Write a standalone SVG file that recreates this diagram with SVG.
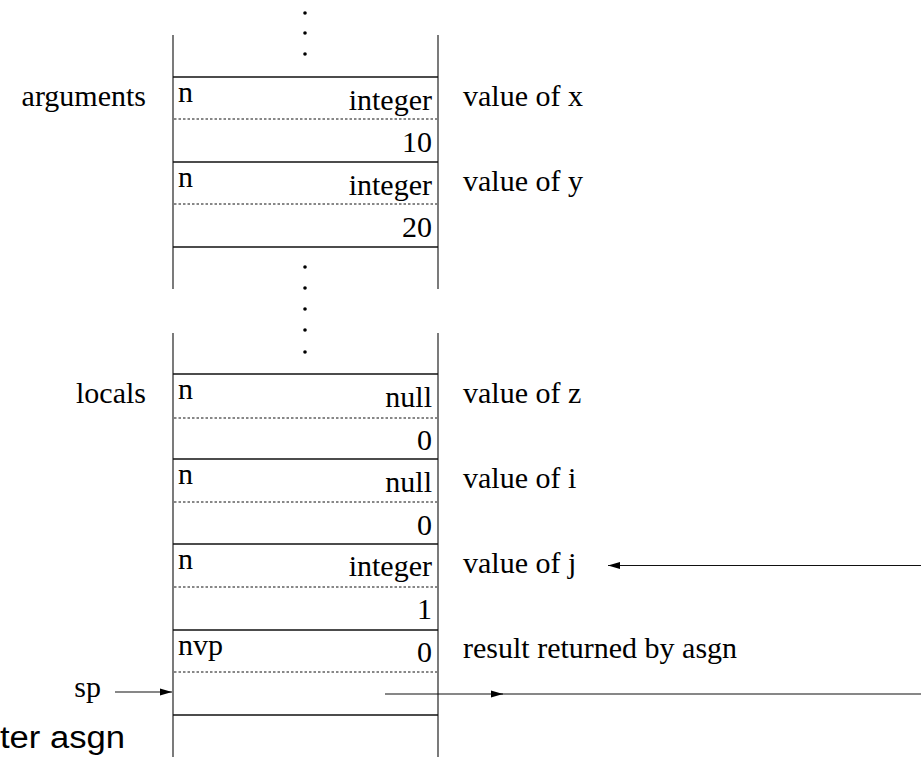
<svg xmlns="http://www.w3.org/2000/svg" width="921" height="757" viewBox="0 0 921 757">
<style>
.t{font-family:'Liberation Serif','Times New Roman',Tinos,'Noto Serif','DejaVu Serif','Nimbus Roman',Times,serif;font-size:30px;fill:#000}
.r{text-anchor:end}
.sans{font-family:'Liberation Sans',Arial,Helvetica,sans-serif;font-size:31px;fill:#000}
.v{stroke:#333;stroke-width:1.3;fill:none}
.h{stroke:#111;stroke-width:1.6;fill:none}
.d{stroke:#111;stroke-width:1;stroke-dasharray:2.5 2;fill:none}
.c{stroke:#111;stroke-width:1.2;fill:none}
</style>
<defs>
<marker id="ah" viewBox="0 0 12 8" refX="12" refY="4" markerWidth="12" markerHeight="8" markerUnits="userSpaceOnUse" orient="auto">
<path d="M0,0.5 L12,4 L0,7.5 Z" fill="#000"/>
</marker>
</defs>
<g id="stack-frame">
<line class="v" x1="173" y1="35" x2="173" y2="289"/>
<line class="v" x1="438" y1="35" x2="438" y2="289"/>
<line class="v" x1="173" y1="333" x2="173" y2="757"/>
<line class="v" x1="438" y1="333" x2="438" y2="757"/>
<g fill="#000">
<circle cx="305" cy="13" r="1.8"/><circle cx="305" cy="33" r="1.8"/><circle cx="305" cy="54" r="1.8"/>
<circle cx="305" cy="267" r="1.8"/><circle cx="305" cy="288" r="1.8"/><circle cx="305" cy="309" r="1.8"/><circle cx="305" cy="330" r="1.8"/><circle cx="305" cy="352" r="1.8"/>
</g>
<text x="146" y="106" class="t r">arguments</text>
<text x="146" y="403" class="t r">locals</text>
<text x="101" y="697" class="t r">sp</text>
<text x="0" y="748" class="sans" textLength="125" lengthAdjust="spacingAndGlyphs">ter asgn</text>
</g>
<g id="arg-x" class="t">
<line class="h" x1="173" y1="77" x2="438" y2="77"/>
<line class="d" x1="174" y1="119" x2="437" y2="119"/>
<text x="178" y="102">n</text>
<text x="432" y="110" class="r">integer</text>
<text x="432" y="152" class="r">10</text>
<text x="463" y="106">value of x</text>
</g>
<g id="arg-y" class="t">
<line class="h" x1="173" y1="162" x2="438" y2="162"/>
<line class="d" x1="174" y1="204" x2="437" y2="204"/>
<line class="h" x1="173" y1="247" x2="438" y2="247"/>
<text x="178" y="187">n</text>
<text x="432" y="195" class="r">integer</text>
<text x="432" y="237" class="r">20</text>
<text x="463" y="191">value of y</text>
</g>
<g id="local-z" class="t">
<line class="h" x1="173" y1="374" x2="438" y2="374"/>
<line class="d" x1="174" y1="418" x2="437" y2="418"/>
<text x="178" y="399">n</text>
<text x="432" y="407" class="r">null</text>
<text x="432" y="450" class="r">0</text>
<text x="463" y="403">value of z</text>
</g>
<g id="local-i" class="t">
<line class="h" x1="173" y1="459" x2="438" y2="459"/>
<line class="d" x1="174" y1="502" x2="437" y2="502"/>
<text x="178" y="484">n</text>
<text x="432" y="492" class="r">null</text>
<text x="432" y="535" class="r">0</text>
<text x="463" y="488">value of i</text>
</g>
<g id="local-j" class="t">
<line class="h" x1="173" y1="544" x2="438" y2="544"/>
<line class="d" x1="174" y1="587" x2="437" y2="587"/>
<text x="178" y="569">n</text>
<text x="432" y="576" class="r">integer</text>
<text x="432" y="619" class="r">1</text>
<text x="463" y="573">value of j</text>
</g>
<g id="result" class="t">
<line class="h" x1="173" y1="630" x2="438" y2="630"/>
<line class="d" x1="174" y1="672" x2="437" y2="672"/>
<line class="h" x1="173" y1="715" x2="438" y2="715"/>
<text x="178" y="655">nvp</text>
<text x="432" y="662" class="r">0</text>
<text x="463" y="658">result returned by asgn</text>
</g>
<g id="connectors">
<line class="c" x1="115" y1="692" x2="172" y2="692" marker-end="url(#ah)"/>
<line class="c" x1="921" y1="565.5" x2="608" y2="565.5" marker-end="url(#ah)"/>
<line class="c" x1="385" y1="694" x2="503" y2="694" marker-end="url(#ah)"/>
<line class="c" x1="500" y1="694" x2="921" y2="694"/>
</g>
</svg>
